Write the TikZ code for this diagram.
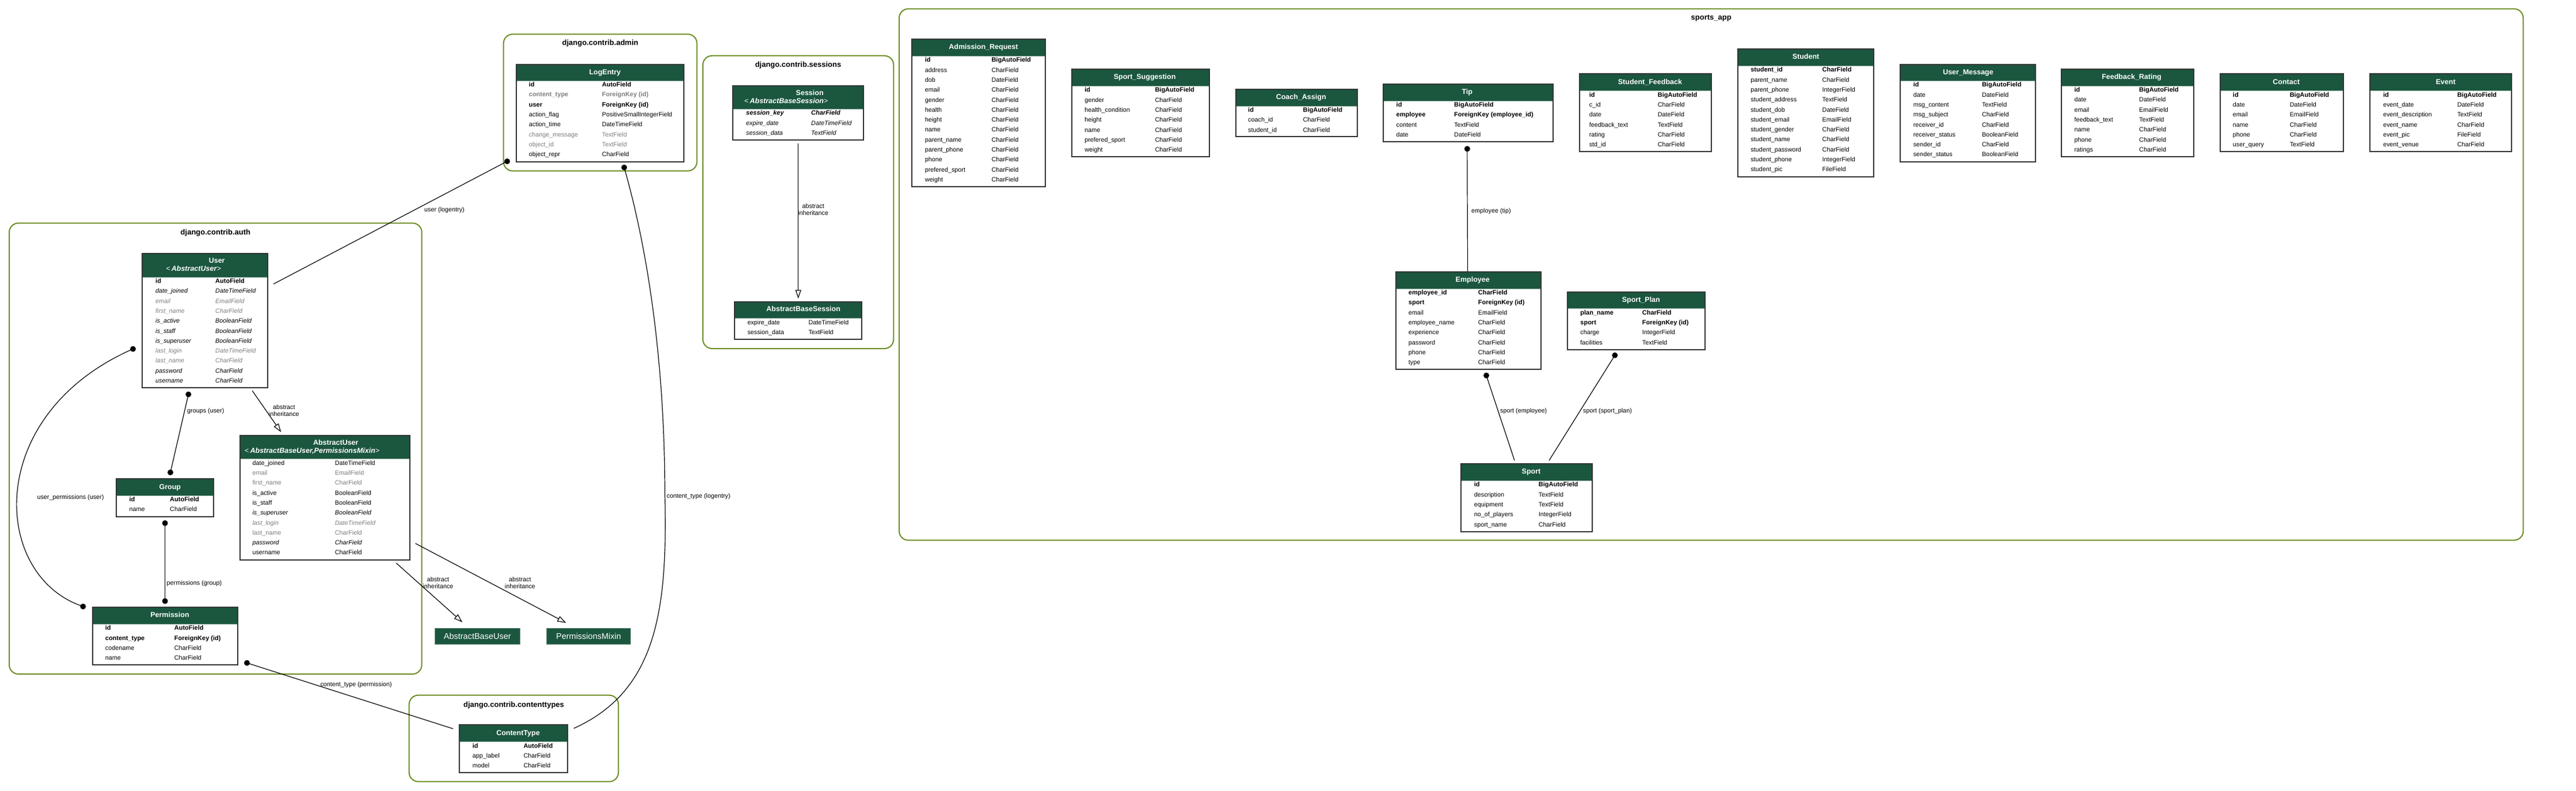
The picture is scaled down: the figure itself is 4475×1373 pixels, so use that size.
\documentclass[tikz,border=0pt]{standalone}
\usepackage{fontspec}
\setmainfont{Liberation Sans}
\usetikzlibrary{fit,arrows.meta}
\definecolor{hdr}{HTML}{1B563F}
\definecolor{clus}{HTML}{6B8E23}
\definecolor{txtgray}{HTML}{7F7F7F}
\definecolor{absbd}{HTML}{7A9A8A}
\definecolor{tbd}{HTML}{333333}
\definecolor{hsep}{HTML}{8AAA98}
\tikzset{
  tblbox/.style={draw=tbd, line width=2pt, inner sep=0pt},
  cluster/.style={draw=clus, line width=2pt, rounded corners=16pt, inner sep=0pt},
  ctitle/.style={font=\fontsize{13}{15}\selectfont\bfseries, inner sep=0pt, anchor=base},
  ttl/.style={text=white, font=\fontsize{12.5}{14}\selectfont\bfseries, inner sep=0pt, anchor=base},
  ttlb/.style={text=white, font=\fontsize{12.5}{14}\selectfont, inner sep=0pt, anchor=base west},
  fn/.style={font=\fontsize{10.8}{13}\selectfont, text=black, inner sep=0pt},
  fg/.style={fn, text=txtgray},
  fi/.style={font=\fontsize{10.8}{13}\selectfont\itshape, text=black, inner sep=0pt},
  fig/.style={fi, text=txtgray},
  fb/.style={font=\fontsize{11}{13}\selectfont\bfseries, text=black, inner sep=0pt},
  fbg/.style={fb, text=txtgray},
  fbi/.style={font=\fontsize{11}{13}\selectfont\bfseries\itshape, text=black, inner sep=0pt},
  conn/.style={line width=1.2pt, draw=black},
  inh/.style={conn, -{Triangle[open, length=15pt, width=10pt]}},
  dotn/.style={circle, fill=black, inner sep=0pt, minimum size=10pt},
  elabel/.style={font=\fontsize{10.8}{13}\selectfont, inner sep=0pt},
  ilabel/.style={font=\fontsize{10.8}{12}\selectfont, inner sep=0pt, align=center},
  absbox/.style={fill=hdr, draw=absbd, line width=1.5pt, text=white, font=\fontsize{14.5}{16}\selectfont, inner sep=0pt},
}
% name, x1, y1, x2, y2, header bottom, col1 x, col2 x, rows
\newcommand\ertable[9]{%
  \fill[white] (#2,#3) rectangle (#4,#5);
  \fill[hdr] (#2,#3) rectangle (#4,#6);
  \draw[hsep, line width=1pt] (#2,#6) -- (#4,#6);
  \node[tblbox, fit={(#2,#3) (#4,#5)}] (#1) {};
  \foreach [count=\k] \s/\fa/\ty in {#9} {
    \pgfmathsetmacro\yy{#6+10.5+(\k-1)*17.3}
    \node[\s, anchor=base west] (#1-f\k) at (#7,\yy) {\fa};
    \node[\s, anchor=base west] (#1-t\k) at (#8,\yy) {\ty};
  }%
}
\begin{document}
\begin{tikzpicture}[x=1pt,y=-1pt]
\useasboundingbox (0,0) rectangle (4475,1373);
\fill[white] (0,0) rectangle (4475,1373);

% ---------------- clusters
\node[cluster, fit={(874.7,59.3) (1210.7,296.7)}] (clAdmin) {};
\node[ctitle] (clAdminT) at (1042.7,78.8) {django.contrib.admin};
\node[cluster, fit={(1221,96.7) (1552.3,605)}] (clSess) {};
\node[ctitle] (clSessT) at (1386.5,116.8) {django.contrib.sessions};
\node[cluster, fit={(16,387.3) (732.7,1170)}] (clAuth) {};
\node[ctitle] (clAuthT) at (374.4,407.8) {django.contrib.auth};
\node[cluster, fit={(710.7,1206.7) (1074.3,1356.7)}] (clCT) {};
\node[ctitle] (clCTT) at (892.5,1227.2) {django.contrib.contenttypes};
\node[cluster, fit={(1562,15.3) (4383.3,937.7)}] (clSports) {};
\node[ctitle] (clSportsT) at (2972.7,34.5) {sports\_app};

% ---------------- django tables
\ertable{LogEntry}{896.7}{111.7}{1188}{280.7}{140}{918.7}{1045.7}{fb/id/AutoField,fbg/content\_type/ForeignKey (id),fb/user/ForeignKey (id),fn/action\_flag/PositiveSmallIntegerField,fn/action\_time/DateTimeField,fg/change\_message/TextField,fg/object\_id/TextField,fn/object\_repr/CharField}
\node[ttl] (LogEntry-h) at (1051,129.5) {LogEntry};

\ertable{Session}{1273.3}{148.7}{1500}{243.3}{189.3}{1296}{1409}{fbi/session\_key/CharField,fi/expire\_date/DateTimeField,fi/session\_data/TextField}
\node[ttl] (Session-h) at (1406.7,165.8) {Session};
\node[ttlb] (Session-h2) at (1293,179.2) {<\,\textbf{\textit{AbstractBaseSession}}>};

\ertable{ABSess}{1275.7}{524}{1497.3}{589}{552.7}{1298.3}{1404.3}{fn/expire\_date/DateTimeField,fn/session\_data/TextField}
\node[ttl] (ABSess-h) at (1395.7,540.5) {AbstractBaseSession};

\ertable{User}{247.3}{440}{465}{673.3}{481}{270}{374}{fb/id/AutoField,fi/date\_joined/DateTimeField,fig/email/EmailField,fig/first\_name/CharField,fi/is\_active/BooleanField,fi/is\_staff/BooleanField,fi/is\_superuser/BooleanField,fig/last\_login/DateTimeField,fig/last\_name/CharField,fi/password/CharField,fi/username/CharField}
\node[ttl] (User-h) at (376.7,456.8) {User};
\node[ttlb] (User-h2) at (288.3,470.8) {<\,\textbf{\textit{AbstractUser}}>};

\ertable{AbsUser}{416.7}{756}{711.7}{971.7}{796.7}{438.3}{581.7}{fn/date\_joined/DateTimeField,fg/email/EmailField,fg/first\_name/CharField,fn/is\_active/BooleanField,fn/is\_staff/BooleanField,fi/is\_superuser/BooleanField,fig/last\_login/DateTimeField,fg/last\_name/CharField,fi/password/CharField,fn/username/CharField}
\node[ttl] (AbsUser-h) at (583.3,772.8) {AbstractUser};
\node[ttlb] (AbsUser-h2) at (425,786.2) {<\,\textbf{\textit{AbstractBaseUser,PermissionsMixin}}>};

\ertable{Group}{202.3}{830.7}{370.7}{896.7}{860}{224.3}{295}{fb/id/AutoField,fn/name/CharField}
\node[ttl] (Group-h) at (295.3,849.2) {Group};

\ertable{Permission}{160.7}{1054.3}{412.7}{1154.3}{1083.3}{182.7}{302.7}{fb/id/AutoField,fb/content\_type/ForeignKey (id),fn/codename/CharField,fn/name/CharField}
\node[ttl] (Permission-h) at (295,1071.8) {Permission};

\ertable{ContentType}{797.7}{1258.3}{986}{1341}{1287.7}{820.7}{909.3}{fb/id/AutoField,fn/app\_label/CharField,fn/model/CharField}
\node[ttl] (ContentType-h) at (900,1276.2) {ContentType};

\node[absbox, minimum width=148pt, minimum height=27.6pt] (ABU) at (829.3,1104.5) {AbstractBaseUser};
\node[absbox, minimum width=146.4pt, minimum height=27.6pt] (PM) at (1022.5,1104.5) {PermissionsMixin};

% ---------------- sports_app tables
\ertable{AdmReq}{1584.1}{67.7}{1816.1}{324}{97.3}{1606.6}{1722.3}{fb/id/BigAutoField,fn/address/CharField,fn/dob/DateField,fn/email/CharField,fn/gender/CharField,fn/health/CharField,fn/height/CharField,fn/name/CharField,fn/parent\_name/CharField,fn/parent\_phone/CharField,fn/phone/CharField,fn/prefered\_sport/CharField,fn/weight/CharField}
\node[ttl] (AdmReq-h) at (1708.4,85.2) {Admission\_Request};

\ertable{SportSug}{1862.1}{120}{2100.5}{272.3}{149.3}{1884.1}{2006.3}{fb/id/BigAutoField,fn/gender/CharField,fn/health\_condition/CharField,fn/height/CharField,fn/name/CharField,fn/prefered\_sport/CharField,fn/weight/CharField}
\node[ttl] (SportSug-h) at (1988.6,137.2) {Sport\_Suggestion};

\ertable{Coach}{2146.6}{154.7}{2357.7}{237.3}{184}{2168}{2263.4}{fb/id/BigAutoField,fn/coach\_id/CharField,fn/student\_id/CharField}
\node[ttl] (Coach-h) at (2260.2,172.2) {Coach\_Assign};

\ertable{Tip}{2403.2}{146}{2698.1}{245.7}{175}{2425.5}{2526}{fb/id/BigAutoField,fb/employee/ForeignKey (employee\_id),fn/content/TextField,fn/date/DateField}
\node[ttl] (Tip-h) at (2548.8,163.5) {Tip};

\ertable{StuFb}{2743.6}{128.3}{2973.4}{263.3}{157.7}{2760.6}{2879.7}{fb/id/BigAutoField,fn/c\_id/CharField,fn/date/DateField,fn/feedback\_text/TextField,fn/rating/CharField,fn/std\_id/CharField}
\node[ttl] (StuFb-h) at (2866.4,146.2) {Student\_Feedback};

\ertable{Student}{3018.9}{85}{3255.1}{306.7}{114.3}{3041.1}{3165.5}{fb/student\_id/CharField,fn/parent\_name/CharField,fn/parent\_phone/IntegerField,fn/student\_address/TextField,fn/student\_dob/DateField,fn/student\_email/EmailField,fn/student\_gender/CharField,fn/student\_name/CharField,fn/student\_password/CharField,fn/student\_phone/IntegerField,fn/student\_pic/FileField}
\node[ttl] (Student-h) at (3137,102.8) {Student};

\ertable{UserMsg}{3301}{111.7}{3536.1}{281}{140.3}{3323.6}{3442.8}{fb/id/BigAutoField,fn/date/DateField,fn/msg\_content/TextField,fn/msg\_subject/CharField,fn/receiver\_id/CharField,fn/receiver\_status/BooleanField,fn/sender\_id/CharField,fn/sender\_status/BooleanField}
\node[ttl] (UserMsg-h) at (3419,129.5) {User\_Message};

\ertable{FbRate}{3581.2}{120}{3811}{272.3}{149}{3603.3}{3716}{fb/id/BigAutoField,fn/date/DateField,fn/email/EmailField,fn/feedback\_text/TextField,fn/name/CharField,fn/phone/CharField,fn/ratings/CharField}
\node[ttl] (FbRate-h) at (3703,137.2) {Feedback\_Rating};

\ertable{Contact}{3856.8}{128.3}{4071.2}{263.3}{157.7}{3878.7}{3977.5}{fb/id/BigAutoField,fn/date/DateField,fn/email/EmailField,fn/name/CharField,fn/phone/CharField,fn/user\_query/TextField}
\node[ttl] (Contact-h) at (3971.6,146.2) {Contact};

\ertable{Event}{4117}{128.3}{4363}{263.3}{157.7}{4139.8}{4268.5}{fb/id/BigAutoField,fn/event\_date/DateField,fn/event\_description/TextField,fn/event\_name/CharField,fn/event\_pic/FileField,fn/event\_venue/CharField}
\node[ttl] (Event-h) at (4248.6,146.2) {Event};

\ertable{Employee}{2424.5}{472.3}{2676.8}{641}{501}{2446.7}{2567.7}{fb/employee\_id/CharField,fb/sport/ForeignKey (id),fn/email/EmailField,fn/employee\_name/CharField,fn/experience/CharField,fn/password/CharField,fn/phone/CharField,fn/type/CharField}
\node[ttl] (Employee-h) at (2558.2,489.5) {Employee};

\ertable{SportPlan}{2723.4}{506.7}{2961.5}{606.7}{535.7}{2745.2}{2852.7}{fb/plan\_name/CharField,fb/sport/ForeignKey (id),fn/charge/IntegerField,fn/facilities/TextField}
\node[ttl] (SportPlan-h) at (2850.8,524.5) {Sport\_Plan};

\ertable{Sport}{2537.7}{805}{2766}{922.7}{834.3}{2560.7}{2672.7}{fb/id/BigAutoField,fn/description/TextField,fn/equipment/TextField,fn/no\_of\_players/IntegerField,fn/sport\_name/CharField}
\node[ttl] (Sport-h) at (2660,822.8) {Sport};

% ---------------- connectors
% user (logentry)
\node[dotn] (dLeU) at (881,280) {};
\coordinate (eLeU) at (475,493);
\draw[conn] (dLeU.center) -- (eLeU);
\node[elabel] (lLeU) at (772,365) {user (logentry)};

% content_type (logentry)
\node[dotn] (dLeCt) at (1084.3,290.7) {};
\coordinate (eLeCt) at (996.7,1264.3);
\coordinate (mLeCt) at (1155,860);
\draw[conn] (dLeCt.center) .. controls (1130,450) and (1155,650) .. (mLeCt) .. controls (1160,1060) and (1140,1200) .. (eLeCt);
\node[elabel, anchor=west] (lLeCt) at (1158,862) {content\_type (logentry)};

% groups (user)
\node[dotn] (dGu1) at (327.3,684.5) {};
\node[dotn] (dGu2) at (296,820) {};
\draw[conn] (dGu1.center) -- (dGu2.center);
\node[elabel, anchor=west] (lGu) at (325,713.3) {groups (user)};

% permissions (group)
\node[dotn] (dPg1) at (286.7,908) {};
\node[dotn] (dPg2) at (286.7,1043.3) {};
\draw[conn] (dPg1.center) -- (dPg2.center);
\node[elabel, anchor=west] (lPg) at (289.5,1012.3) {permissions (group)};

% user_permissions (user)
\node[dotn] (dUp1) at (231,605.7) {};
\node[dotn] (dUp2) at (144.3,1052.7) {};
\draw[conn] (dUp1.center) .. controls (-30,720) and (-15,1000) .. (dUp2.center);
\node[elabel] (lUp) at (122.5,863.3) {user\_permissions (user)};

% content_type (permission)
\node[dotn] (dCtP) at (429,1150.7) {};
\coordinate (eCtP) at (787.3,1265);
\draw[conn] (dCtP.center) -- (eCtP);
\node[elabel, anchor=east] (lCtP) at (681,1189) {content\_type (permission)};

% abstract inheritance
\coordinate (iS1) at (1386.7,248.7);
\coordinate (iS2) at (1386.7,518.3);
\draw[inh] (iS1) -- (iS2);
\node[ilabel] (lS) at (1412.7,364) {abstract\\inheritance};

\coordinate (iU1) at (438.3,678.3);
\coordinate (iU2) at (488.3,750);
\draw[inh] (iU1) -- (iU2);
\node[ilabel] (lU) at (493.3,713) {abstract\\inheritance};

\coordinate (iA1) at (688.3,977.3);
\coordinate (iA2) at (803.3,1080);
\draw[inh] (iA1) -- (iA2);
\node[ilabel] (lA) at (761,1012) {abstract\\inheritance};

\coordinate (iP1) at (721.7,943.3);
\coordinate (iP2) at (983.3,1081);
\draw[inh] (iP1) -- (iP2);
\node[ilabel] (lP) at (903.3,1012) {abstract\\inheritance};

% employee (tip)
\node[dotn] (dEt) at (2548.8,258.3) {};
\coordinate (eEt) at (2549.5,471);
\draw[conn] (dEt.center) -- (eEt);
\node[elabel, anchor=west] (lEt) at (2556,367) {employee (tip)};

% sport (employee)
\node[dotn] (dSe) at (2582,651.7) {};
\coordinate (eSe) at (2631,799.3);
\draw[conn] (dSe.center) -- (eSe);
\node[elabel, anchor=west] (lSe) at (2606,713.3) {sport (employee)};

% sport (sport_plan)
\node[dotn] (dSp) at (2805.3,616.7) {};
\coordinate (eSp) at (2691,799.3);
\draw[conn] (dSp.center) -- (eSp);
\node[elabel, anchor=west] (lSp) at (2750,713.3) {sport (sport\_plan)};
\end{tikzpicture}
\end{document}
